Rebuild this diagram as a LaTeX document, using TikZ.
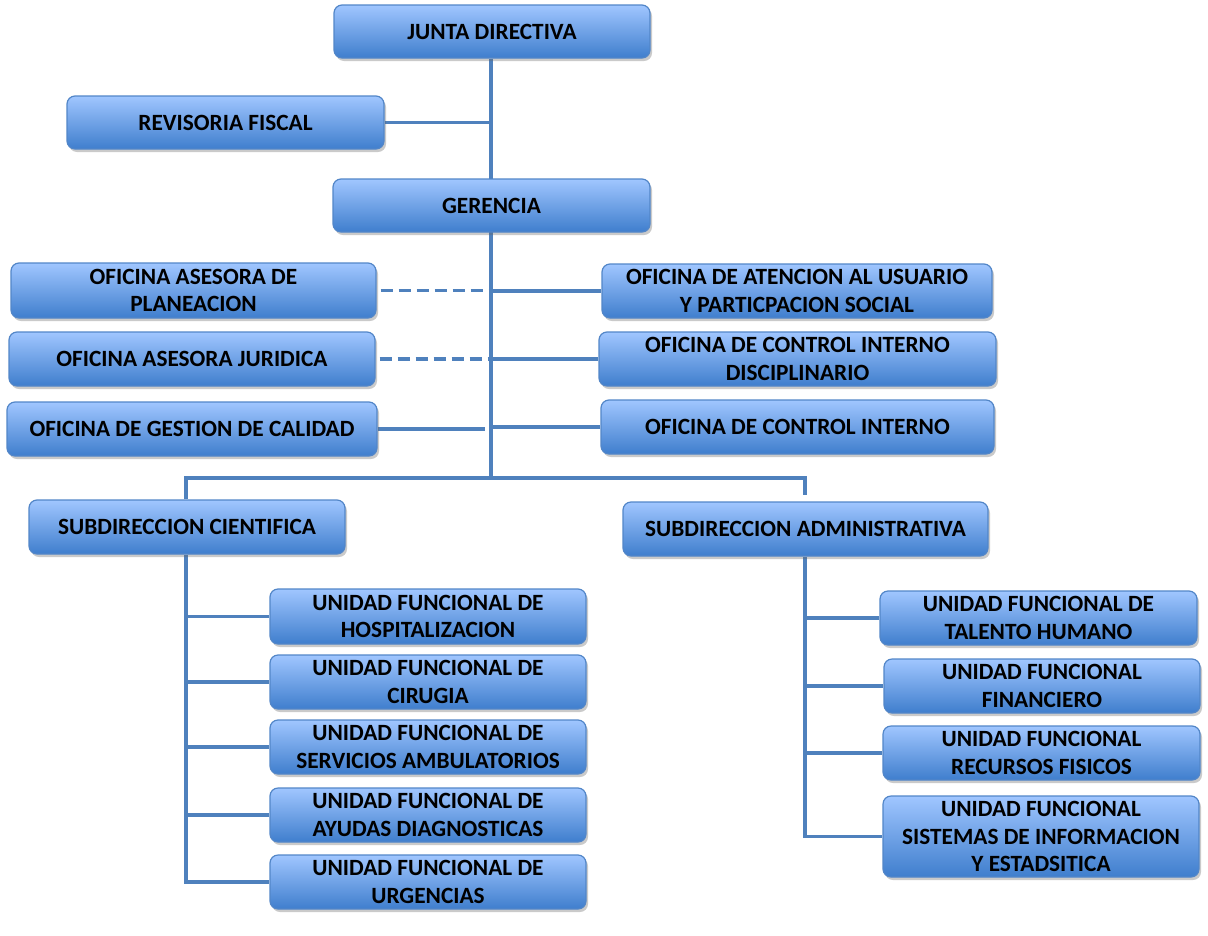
\documentclass[tikz,border=0pt]{standalone}
\usepackage{fontspec}
\setmainfont{Carlito}
\usetikzlibrary{shadows,backgrounds,calc}
\definecolor{boxtop}{HTML}{A0C6FF}
\definecolor{boxbot}{HTML}{3F7ECD}
\definecolor{boxline}{HTML}{5286C8}
\definecolor{conn}{HTML}{4F81BD}
\begin{document}
\begin{tikzpicture}[x=1pt,y=-1pt,
  box/.style={rectangle, rounded corners=8pt, draw=boxline, line width=1.2pt,
    top color=boxtop, bottom color=boxbot, align=center,
    font=\fontsize{23.3}{27.5}\selectfont\bfseries, text=black, inner sep=1pt,
    drop shadow={shadow xshift=2pt, shadow yshift=-3pt, opacity=0.35, fill=black!60}},
  link/.style={draw=conn, line width=3.6pt},
  dlink/.style={link, dash pattern=on 12pt off 6pt}]
\useasboundingbox (0,0) rectangle (1208,935);

\node[box, minimum width=316pt, minimum height=53pt] (jd) at (492,31.5) {JUNTA DIRECTIVA};
\node[box, minimum width=317pt, minimum height=53pt] (rf) at (225.5,122.5) {REVISORIA FISCAL};
\node[box, minimum width=317pt, minimum height=53pt] (ge) at (491.5,205.5) {GERENCIA};
\node[box, minimum width=365pt, minimum height=55pt] (pl) at (193.5,290.5) {OFICINA ASESORA DE\\PLANEACION};
\node[box, minimum width=390pt, minimum height=54pt] (at) at (797,291) {OFICINA DE ATENCION AL USUARIO\\Y PARTICPACION SOCIAL};
\node[box, minimum width=366pt, minimum height=54pt] (ju) at (192,359) {OFICINA ASESORA JURIDICA};
\node[box, minimum width=397pt, minimum height=54pt] (cd) at (797.5,359) {OFICINA DE CONTROL INTERNO\\DISCIPLINARIO};
\node[box, minimum width=370pt, minimum height=54pt] (ca) at (192,429) {OFICINA DE GESTION DE CALIDAD};
\node[box, minimum width=393pt, minimum height=54pt] (ci) at (797.5,427) {OFICINA DE CONTROL INTERNO};
\node[box, minimum width=316pt, minimum height=54pt] (sc) at (187,527) {SUBDIRECCION CIENTIFICA};
\node[box, minimum width=365pt, minimum height=54pt] (sa) at (805.5,529) {SUBDIRECCION ADMINISTRATIVA};

\node[box, minimum width=316pt, minimum height=55pt] (ho) at (428,616.5) {UNIDAD FUNCIONAL DE\\HOSPITALIZACION};
\node[box, minimum width=316pt, minimum height=54pt] (cr) at (428,682) {UNIDAD FUNCIONAL DE\\CIRUGIA};
\node[box, minimum width=316pt, minimum height=54pt] (sv) at (428,747) {UNIDAD FUNCIONAL DE\\SERVICIOS AMBULATORIOS};
\node[box, minimum width=316pt, minimum height=54pt] (ay) at (428,815) {UNIDAD FUNCIONAL DE\\AYUDAS DIAGNOSTICAS};
\node[box, minimum width=316pt, minimum height=54pt] (ur) at (428,882) {UNIDAD FUNCIONAL DE\\URGENCIAS};

\node[box, minimum width=317pt, minimum height=54pt] (th) at (1038.5,618) {UNIDAD FUNCIONAL DE\\TALENTO HUMANO};
\node[box, minimum width=316pt, minimum height=54pt] (fi) at (1042,686) {UNIDAD FUNCIONAL\\FINANCIERO};
\node[box, minimum width=317pt, minimum height=54pt] (re) at (1041.5,753) {UNIDAD FUNCIONAL\\RECURSOS FISICOS};
\node[box, minimum width=316pt, minimum height=81pt] (si) at (1041,836.5) {UNIDAD FUNCIONAL\\SISTEMAS DE INFORMACION\\Y ESTADSITICA};

\coordinate (hub) at (491,478);
\coordinate (sadrop) at (805,495);
\coordinate (scx) at (186,560);
\coordinate (sax) at (805,560);

\begin{scope}[on background layer]
\draw[link] (jd.south -| hub) -- (hub);
\draw[link] (rf.east) -- (rf.east -| hub);
\draw[dlink] ($(pl.east)+(4,0)$) -- (pl.east -| hub);
\draw[link] (at.west) -- (at.west -| hub);
\draw[dlink] ($(ju.east)+(4,0)$) -- (ju.east -| hub);
\draw[link] (cd.west) -- (cd.west -| hub);
\draw[link] (ca.east) -- ($(ca.east -| hub)+(-6,0)$);
\draw[link] (ci.west) -- (ci.west -| hub);
\draw[link] (sc.north -| scx) |- (hub) -| (sadrop);
\draw[link] (sc.south -| scx) |- (ur.west);
\draw[link] (ho.west) -- (ho.west -| scx);
\draw[link] (cr.west) -- (cr.west -| scx);
\draw[link] (sv.west) -- (sv.west -| scx);
\draw[link] (ay.west) -- (ay.west -| scx);
\draw[link] (sa.south -| sax) |- (si.west);
\draw[link] (th.west) -- (th.west -| sax);
\draw[link] (fi.west) -- (fi.west -| sax);
\draw[link] (re.west) -- (re.west -| sax);
\end{scope}
\end{tikzpicture}
\end{document}
